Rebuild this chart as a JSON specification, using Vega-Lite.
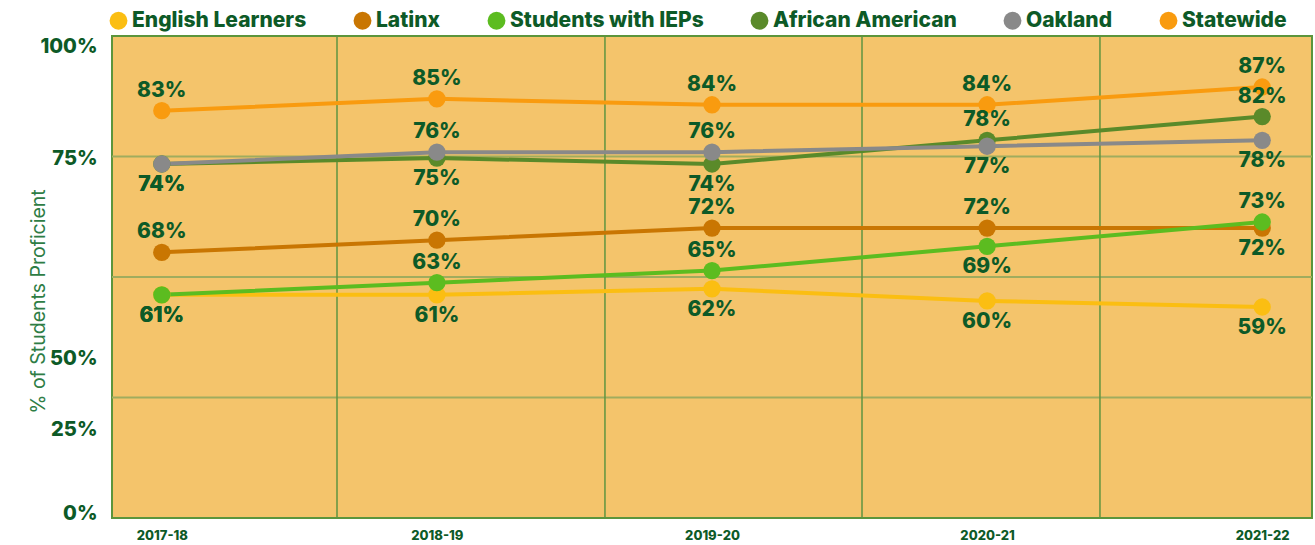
{
  "$schema": "https://vega.github.io/schema/vega-lite/v6.json",
  "autosize": {"type": "none"},
  "padding": {"left": 112, "top": 36, "right": 3, "bottom": 27},
  "width": 1200,
  "height": 482,
  "config": {
    "view": {"fill": "#F4C46B", "stroke": "#5C953C", "strokeWidth": 2},
    "font": "Inter"
  },
  "layer": [
    {
      "data": {"values": [{"q": 25}, {"q": 50}, {"q": 75}]},
      "mark": {"type": "rule", "color": "#A0AC5E", "strokeWidth": 2},
      "encoding": {
        "y": {"field": "q", "type": "quantitative", "scale": {"domain": [0, 100], "nice": false}, "axis": null}
      }
    },
    {
      "data": {"values": [{"b": 18.75}, {"b": 41.08}, {"b": 62.5}, {"b": 82.33}]},
      "mark": {"type": "rule", "color": "#5F9440", "strokeWidth": 1.5},
      "encoding": {
        "x": {"field": "b", "type": "quantitative", "scale": {"domain": [0, 100], "nice": false}, "axis": null}
      }
    },
    {
      "data": {
        "values": [
          {"year": "2017-18", "group": "African American", "pct": 74},
          {"year": "2018-19", "group": "African American", "pct": 75},
          {"year": "2019-20", "group": "African American", "pct": 74},
          {"year": "2020-21", "group": "African American", "pct": 78},
          {"year": "2021-22", "group": "African American", "pct": 82},
          {"year": "2017-18", "group": "English Learners", "pct": 61},
          {"year": "2018-19", "group": "English Learners", "pct": 61},
          {"year": "2019-20", "group": "English Learners", "pct": 62},
          {"year": "2020-21", "group": "English Learners", "pct": 60},
          {"year": "2021-22", "group": "English Learners", "pct": 59},
          {"year": "2017-18", "group": "Latinx", "pct": 68},
          {"year": "2018-19", "group": "Latinx", "pct": 70},
          {"year": "2019-20", "group": "Latinx", "pct": 72},
          {"year": "2020-21", "group": "Latinx", "pct": 72},
          {"year": "2021-22", "group": "Latinx", "pct": 72},
          {"year": "2017-18", "group": "Oakland", "pct": 74},
          {"year": "2018-19", "group": "Oakland", "pct": 76},
          {"year": "2019-20", "group": "Oakland", "pct": 76},
          {"year": "2020-21", "group": "Oakland", "pct": 77},
          {"year": "2021-22", "group": "Oakland", "pct": 78},
          {"year": "2017-18", "group": "Statewide", "pct": 83},
          {"year": "2018-19", "group": "Statewide", "pct": 85},
          {"year": "2019-20", "group": "Statewide", "pct": 84},
          {"year": "2020-21", "group": "Statewide", "pct": 84},
          {"year": "2021-22", "group": "Statewide", "pct": 87},
          {"year": "2017-18", "group": "Students with IEPs", "pct": 61},
          {"year": "2018-19", "group": "Students with IEPs", "pct": 63},
          {"year": "2019-20", "group": "Students with IEPs", "pct": 65},
          {"year": "2020-21", "group": "Students with IEPs", "pct": 69},
          {"year": "2021-22", "group": "Students with IEPs", "pct": 73}
        ]
      },
      "transform": [
        {"calculate": "datum.group + '|' + datum.year", "as": "key"},
        {"calculate": "datum.group === 'English Learners' || indexof(['Students with IEPs|2017-18', 'Students with IEPs|2020-21', 'Latinx|2021-22', 'African American|2017-18', 'African American|2018-19', 'African American|2019-20', 'Oakland|2017-18', 'Oakland|2020-21', 'Oakland|2021-22'], datum.key) >= 0", "as": "below"},
        {"calculate": "datum.pct + '%'", "as": "label"}
      ],
      "encoding": {
        "x": {
          "field": "year", "type": "ordinal",
          "scale": {"type": "point", "padding": 0.181},
          "axis": {
            "orient": "bottom", "title": null, "labelAngle": 0, "ticks": false, "domain": false,
            "labelFontSize": 13, "labelFontWeight": 800, "labelColor": "#0D5A27", "labelPadding": 11
          }
        },
        "y": {
          "field": "pct", "type": "quantitative",
          "scale": {
            "domain": [0, 25, 50, 59, 73, 74, 87, 100],
            "range": [477, 393, 322, 271, 186, 128, 51, 10],
            "nice": false, "zero": false
          },
          "axis": {
            "orient": "left", "values": [0, 25, 50, 75, 100], "labelExpr": "datum.value + '%'",
            "grid": false, "ticks": false, "domain": false, "labelOverlap": false,
            "labelFontSize": 20, "labelFontWeight": 800, "labelColor": "#0D5A27", "labelPadding": 15,
            "title": "% of Students Proficient", "titleFontSize": 19.5, "titleFontWeight": "normal",
            "titleColor": "#2E7D45", "titleX": -64, "titleY": 265
          }
        },
        "color": {
          "field": "group", "type": "nominal",
          "scale": {
            "domain": ["English Learners", "Latinx", "Students with IEPs", "African American", "Oakland", "Statewide"],
            "range": ["#FBBE12", "#C97602", "#5CBC20", "#5A8A2A", "#898989", "#F99B0F"]
          },
          "legend": {
            "orient": "none", "legendX": -4, "legendY": -26, "direction": "horizontal",
            "title": null, "symbolType": "circle", "symbolSize": 320, "symbolStrokeWidth": 0,
            "labelFontSize": 21, "labelFontWeight": 800, "labelColor": "#0D5A27",
            "labelOffset": 3, "columnPadding": 45, "labelLimit": 400,
            "encode": {"symbols": {"update": {"fill": {"scale": "color", "field": "value"}, "opacity": {"value": 1}}}}
          }
        }
      },
      "layer": [
        {
          "mark": {"type": "line", "strokeWidth": 4}
        },
        {
          "mark": {"type": "point", "filled": true, "size": 300, "opacity": 1}
        },
        {
          "transform": [{"filter": "!datum.below"}],
          "mark": {"type": "text", "dy": -20, "fontSize": 21, "fontWeight": 800, "color": "#0D5A27", "baseline": "middle"},
          "encoding": {"text": {"field": "label"}, "color": {"value": "#0D5A27"}}
        },
        {
          "transform": [{"filter": "datum.below"}],
          "mark": {"type": "text", "dy": 21, "fontSize": 21, "fontWeight": 800, "color": "#0D5A27", "baseline": "middle"},
          "encoding": {"text": {"field": "label"}, "color": {"value": "#0D5A27"}}
        }
      ]
    }
  ],
  "resolve": {"scale": {"x": "independent", "y": "independent"}}
}
